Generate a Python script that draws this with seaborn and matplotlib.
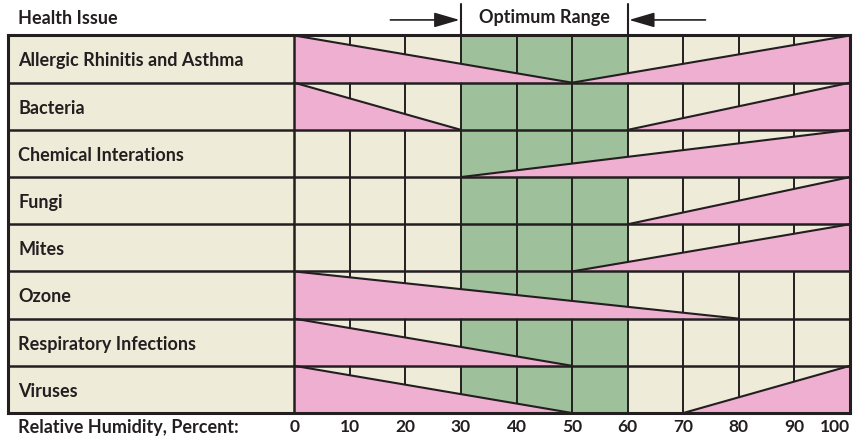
import matplotlib
matplotlib.use("Agg")
import matplotlib.pyplot as plt
import seaborn as sns

# ----------------------------------------------------------------------
# Data
# ----------------------------------------------------------------------
issues = [
    'Allergic Rhinitis and Asthma', 'Bacteria', 'Chemical Interations',
    'Fungi', 'Mites', 'Ozone', 'Respiratory Infections', 'Viruses',
]
# humidity where the "too dry" wedge runs out (None = no wedge)
dry_end = [50, 30, None, None, None, 80, 50, 50]
# humidity where the "too wet" wedge begins (None = no wedge)
wet_start = [50, 60, 30, 60, 50, None, None, 70]

optimum = (30, 60)
ticks = [0, 10, 20, 30, 40, 50, 60, 70, 80, 90, 100]

BEIGE = '#EEEBD9'
GREEN = '#9EC09A'
PINK = '#EFAFD0'
INK = '#231F20'

sns.set_theme(style='white')
plt.rcParams['font.family'] = ['Lato', 'DejaVu Sans']

fig = plt.figure(figsize=(8.54, 4.44), dpi=100)
W, H = 854, 444
ax = fig.add_axes([8 / W, (H - 413) / H, 842 / W, 377.5 / H])

label_left = -51.5
ax.set_xlim(label_left, 100)
ax.set_ylim(len(issues), 0)

# backgrounds
ax.axvspan(label_left, optimum[0], color=BEIGE, zorder=0, lw=0)
ax.axvspan(optimum[0], optimum[1], color=GREEN, zorder=0, lw=0)
ax.axvspan(optimum[1], 100, color=BEIGE, zorder=0, lw=0)

# vertical grid
for t in ticks[1:-1]:
    ax.axvline(t, color=INK, lw=1.4, zorder=1)
ax.axvline(0, color=INK, lw=1.8, zorder=5)

# wedges
for i, (d, w) in enumerate(zip(dry_end, wet_start)):
    top, bot = i, i + 1
    if d is not None:
        ax.fill([0, d, 0], [top, bot, bot], color=PINK, lw=0, zorder=2)
        ax.plot([0, d], [top, bot], color=INK, lw=1.5, zorder=3)
    if w is not None:
        ax.fill([w, 100, 100], [bot, top, bot], color=PINK, lw=0, zorder=2)
        ax.plot([w, 100], [bot, top], color=INK, lw=1.5, zorder=3)
    ax.text(label_left + 1.8, i + 0.54, issues[i], ha='left', va='center',
            fontsize=13, fontweight='bold', color=INK, zorder=6)

# row separators
for r in range(1, len(issues)):
    ax.axhline(r, color=INK, lw=1.8, zorder=4)

for s in ax.spines.values():
    s.set_visible(True)
    s.set_color(INK)
    s.set_linewidth(2.2)
    s.set_zorder(7)

ax.set_yticks([])
ax.set_xticks(ticks)
ax.set_xticklabels([str(t) for t in ticks], fontsize=12.5, fontweight='bold',
                   color=INK)
ax.tick_params(axis='x', length=0, pad=4)
ax.get_xticklabels()[-1].set_ha('right')

# header
ax.text(label_left + 1.8, -0.36, 'Health Issue', ha='left', va='center',
        fontsize=13, fontweight='bold', color=INK, clip_on=False)
ax.text(sum(optimum) / 2, -0.38, 'Optimum Range', ha='center', va='center',
        fontsize=13, fontweight='bold', color=INK, clip_on=False)
for x in optimum:
    ax.plot([x, x], [-0.66, 0], color=INK, lw=1.5, clip_on=False)
arrow = dict(arrowstyle='-|>,head_length=1.3,head_width=0.38', color=INK,
             lw=1.2, shrinkA=0, shrinkB=1)
ax.annotate('', xy=(optimum[0], -0.33), xytext=(17.3, -0.33),
            arrowprops=arrow, annotation_clip=False)
ax.annotate('', xy=(optimum[1], -0.33), xytext=(74.0, -0.33),
            arrowprops=arrow, annotation_clip=False)

ax.text(label_left + 1.8, 8.3, 'Relative Humidity, Percent:', ha='left',
        va='center', fontsize=13, fontweight='bold', color=INK, clip_on=False)

fig.savefig('out.png', dpi=100, facecolor='white')
